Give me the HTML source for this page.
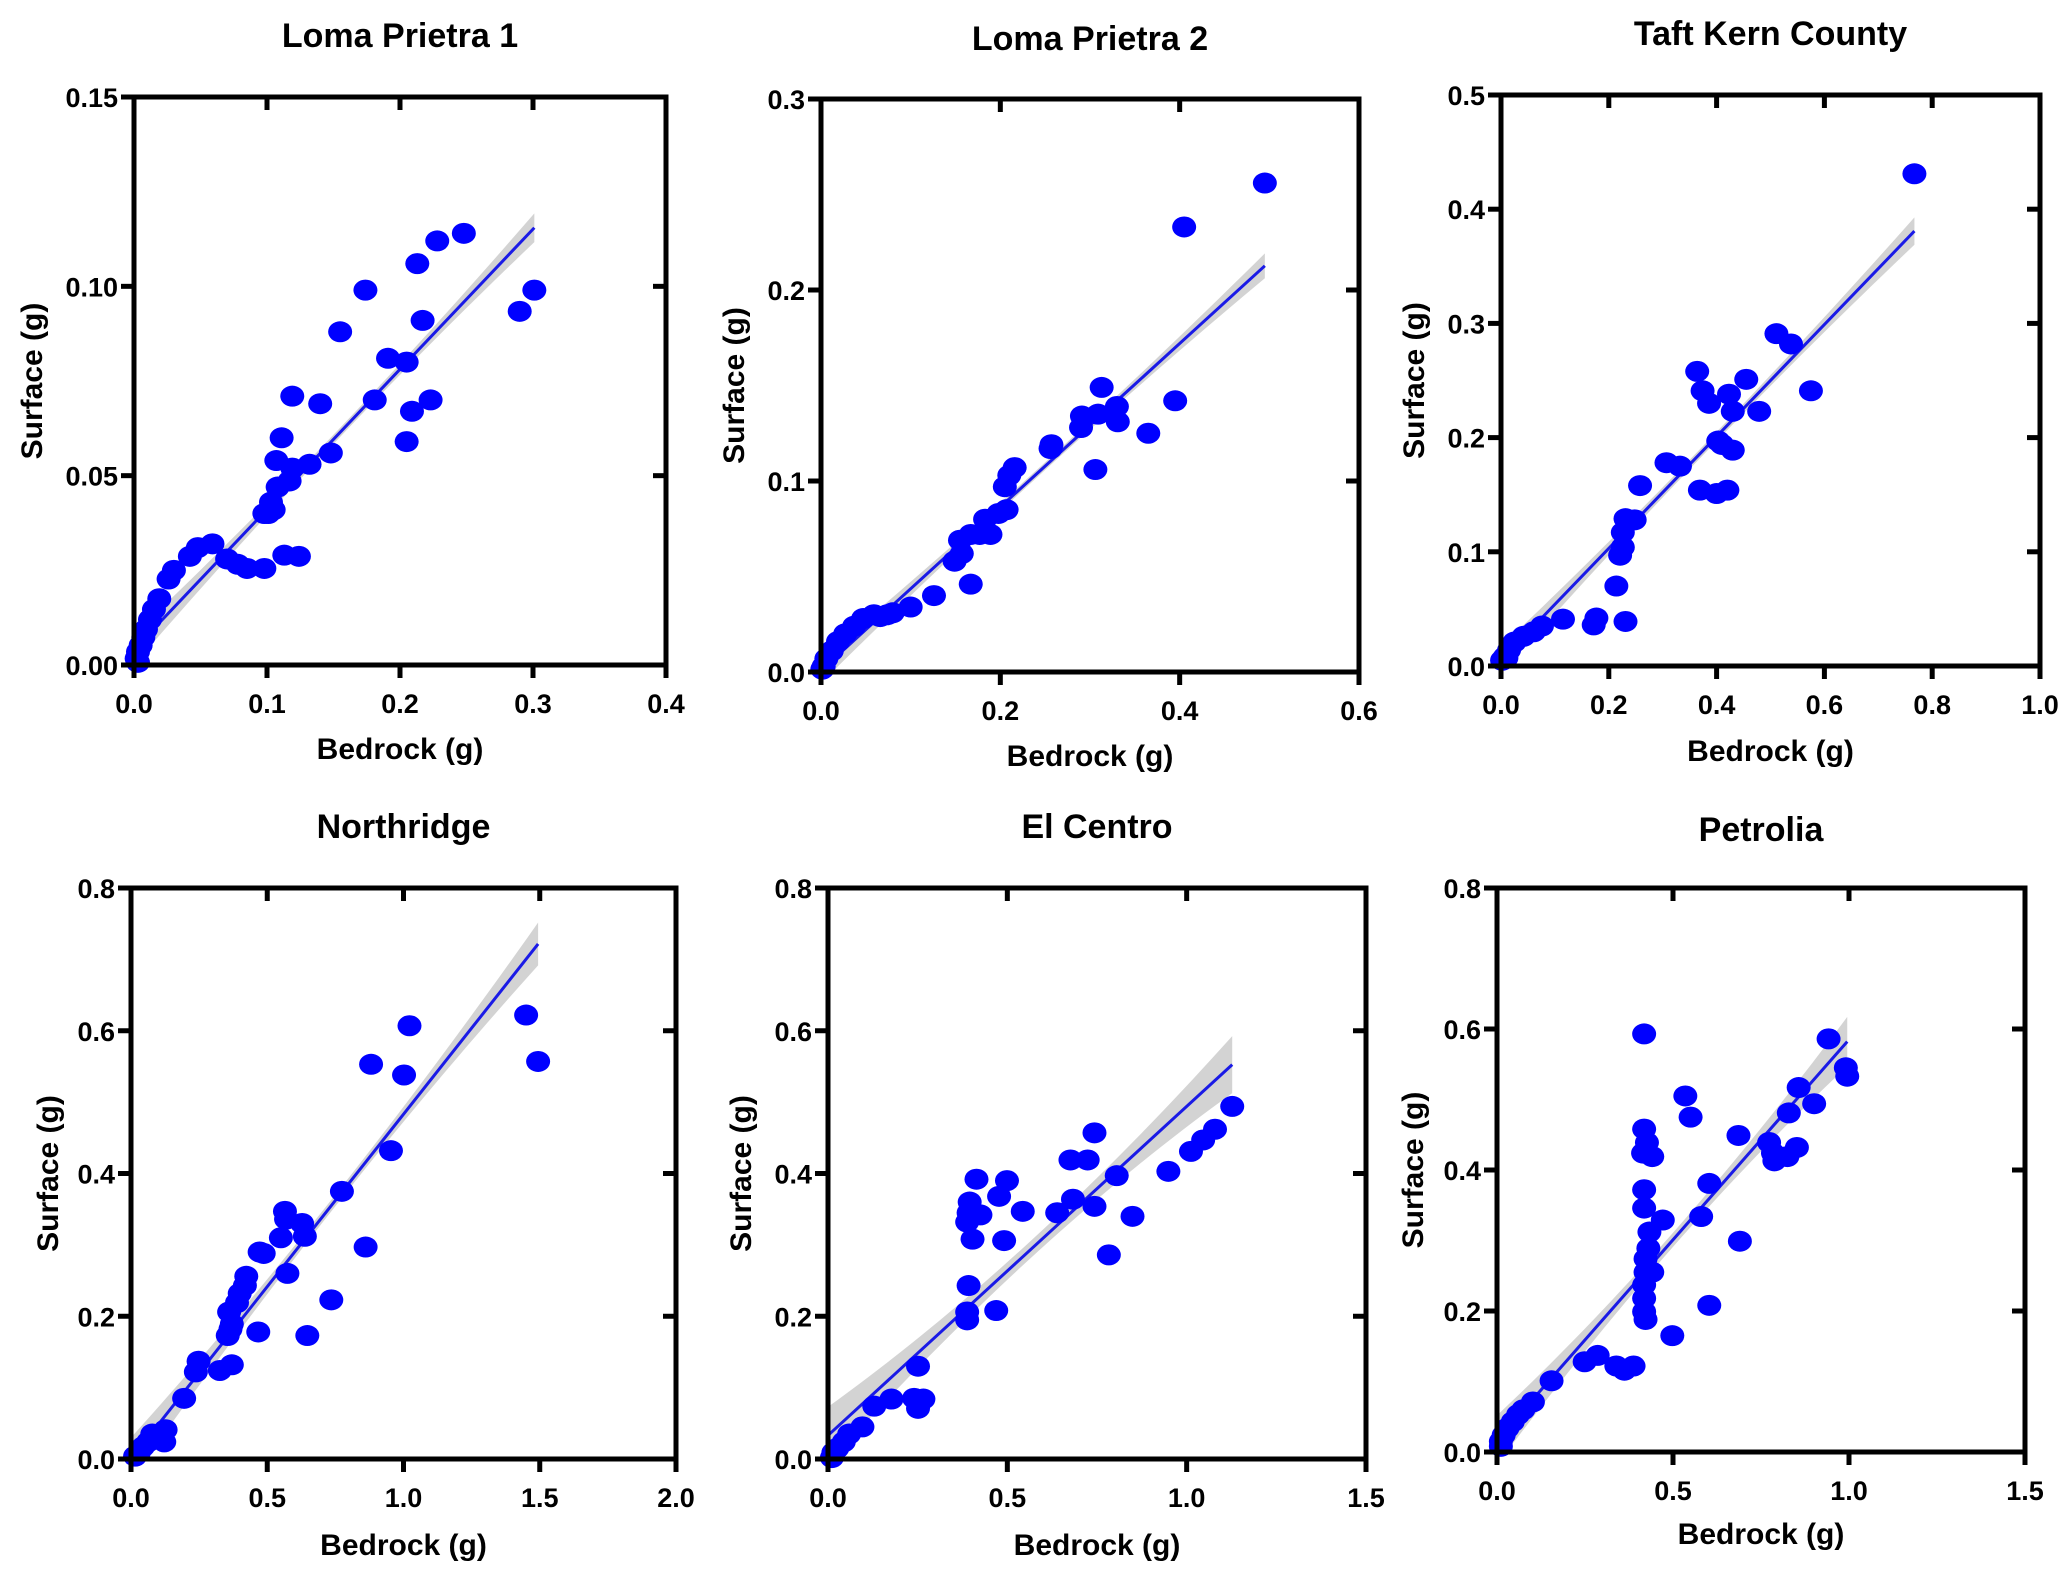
<!DOCTYPE html>
<html><head><meta charset="utf-8"><style>
html,body{margin:0;padding:0;background:#fff;}
svg{display:block;font-family:"Liberation Sans",Arial,sans-serif;}
</style></head><body>
<svg id="fig" width="2067" height="1572" viewBox="0 0 2067 1572" xmlns="http://www.w3.org/2000/svg"></svg>
<script>
// ---- data ----
const p1x=[0.301,0.290,0.248,0.228,0.213,0.217,0.191,0.205,0.223,0.209,0.205,0.174,0.155,0.181,0.140,0.119,0.111,0.148,0.132,0.107,0.119,0.117,0.108,0.103,0.101,0.105,0.098,0.113,0.124,0.098,0.085,0.070,0.059,0.048,0.042,0.030,0.026,0.019,0.015,0.012,0.009,0.007,0.005,0.003,0.002,0.003,0.078];
const p1y=[0.099,0.0934,0.114,0.112,0.106,0.091,0.081,0.080,0.070,0.067,0.059,0.099,0.088,0.070,0.069,0.071,0.060,0.056,0.053,0.054,0.052,0.0486,0.047,0.043,0.040,0.041,0.040,0.029,0.0287,0.0255,0.0255,0.028,0.032,0.031,0.0287,0.025,0.0227,0.0175,0.0147,0.012,0.0094,0.0073,0.0052,0.0035,0.0017,0.0007,0.0266];
const p2x=[0.495,0.405,0.395,0.365,0.331,0.330,0.313,0.309,0.306,0.291,0.290,0.257,0.256,0.216,0.210,0.205,0.207,0.198,0.183,0.189,0.177,0.167,0.155,0.157,0.149,0.167,0.126,0.100,0.080,0.066,0.059,0.047,0.037,0.027,0.019,0.012,0.006,0.003,0.0015,0.074];
const p2y=[0.256,0.233,0.142,0.125,0.131,0.139,0.149,0.135,0.106,0.134,0.128,0.119,0.117,0.107,0.103,0.097,0.085,0.083,0.080,0.072,0.072,0.072,0.069,0.062,0.058,0.046,0.040,0.034,0.031,0.029,0.030,0.028,0.024,0.020,0.016,0.011,0.007,0.003,0.0015,0.030];
const p3x=[0.767,0.511,0.538,0.575,0.364,0.374,0.386,0.455,0.423,0.430,0.479,0.403,0.410,0.430,0.400,0.420,0.369,0.332,0.307,0.258,0.248,0.231,0.226,0.226,0.221,0.214,0.231,0.177,0.172,0.115,0.076,0.061,0.042,0.025,0.015,0.007,0.002,0.010];
const p3y=[0.431,0.291,0.282,0.241,0.258,0.241,0.230,0.251,0.238,0.223,0.223,0.197,0.194,0.189,0.151,0.154,0.154,0.175,0.178,0.158,0.128,0.129,0.117,0.104,0.097,0.070,0.039,0.042,0.036,0.041,0.035,0.030,0.026,0.021,0.014,0.008,0.005,0.007];
const p4x=[1.494,1.450,1.022,1.002,0.881,0.954,0.861,0.774,0.735,0.647,0.628,0.638,0.565,0.569,0.550,0.574,0.472,0.487,0.467,0.423,0.418,0.399,0.389,0.370,0.360,0.365,0.355,0.370,0.326,0.248,0.238,0.195,0.127,0.122,0.078,0.063,0.044,0.029,0.015,0.088];
const p4y=[0.557,0.622,0.607,0.538,0.553,0.432,0.297,0.375,0.223,0.173,0.330,0.312,0.347,0.336,0.310,0.260,0.290,0.288,0.178,0.256,0.243,0.232,0.219,0.189,0.206,0.182,0.173,0.132,0.124,0.137,0.122,0.085,0.041,0.024,0.035,0.024,0.017,0.009,0.004,0.030];
const p5x=[1.127,1.079,1.046,1.012,0.949,0.849,0.805,0.783,0.743,0.724,0.676,0.683,0.743,0.639,0.543,0.499,0.477,0.491,0.469,0.414,0.425,0.395,0.392,0.388,0.403,0.392,0.388,0.388,0.251,0.240,0.251,0.266,0.177,0.129,0.096,0.059,0.044,0.026,0.015,0.011];
const p5y=[0.494,0.462,0.447,0.431,0.403,0.340,0.397,0.286,0.457,0.419,0.419,0.364,0.354,0.345,0.347,0.390,0.368,0.306,0.208,0.392,0.342,0.360,0.345,0.332,0.308,0.243,0.206,0.195,0.130,0.085,0.071,0.084,0.084,0.074,0.045,0.035,0.024,0.015,0.009,0.002];
const p6x=[0.418,0.942,0.995,0.991,0.857,0.901,0.829,0.773,0.784,0.788,0.825,0.852,0.686,0.690,0.535,0.550,0.603,0.580,0.603,0.498,0.471,0.418,0.426,0.441,0.415,0.418,0.418,0.433,0.441,0.430,0.422,0.422,0.418,0.418,0.418,0.422,0.388,0.339,0.362,0.286,0.249,0.155,0.102,0.075,0.060,0.045,0.030,0.019,0.011,0.011];
const p6y=[0.593,0.586,0.533,0.545,0.517,0.494,0.481,0.439,0.424,0.413,0.419,0.432,0.449,0.299,0.505,0.475,0.381,0.334,0.208,0.165,0.329,0.458,0.439,0.419,0.424,0.372,0.346,0.312,0.255,0.289,0.274,0.255,0.237,0.218,0.199,0.188,0.122,0.122,0.116,0.137,0.128,0.101,0.071,0.060,0.053,0.043,0.034,0.024,0.015,0.008];
const titles=["Loma Prietra 1","Loma Prietra 2","Taft Kern County","Northridge","El Centro","Petrolia"];
const xTicks=[[0,0.1,0.2,0.3,0.4],[0,0.2,0.4,0.6],[0,0.2,0.4,0.6,0.8,1.0],[0,0.5,1.0,1.5,2.0],[0,0.5,1.0,1.5],[0,0.5,1.0,1.5]];
const yTicks=[[0,0.05,0.10,0.15],[0,0.1,0.2,0.3],[0,0.1,0.2,0.3,0.4,0.5],[0,0.2,0.4,0.6,0.8],[0,0.2,0.4,0.6,0.8],[0,0.2,0.4,0.6,0.8]];
const xDec=[1,1,1,1,1,1];
const yDec=[2,1,1,1,1,1];
const fitSlope=[0.37,0.428,0.49,0.483,0.461,0.568];
const fitIntercept=[0.0041,0.0008,0.005,0.0,0.033,0.017];
const fitRange=[[0.006,0.301],[0.0015,0.495],[0.0,0.767],[0.0,1.494],[0.0,1.127],[0.0,0.995]];
const ciEnd=[0.0038,0.0065,0.012,0.03,0.04,0.035];
const ciMid=[0.0012,0.002,0.004,0.008,0.012,0.01];
// ---- layout ----
const boxes=[[134,666,97,665],[821,1359,99,672],[1501,2040,95,666],[131,676,888,1459],[828,1366,888,1459],[1497,2025,888,1452]];
const titleY=[47,50,45,838,838,841];
const xLabY=[759,766,761,1555,1555,1544];
const yLabX=[42,744,1424,58,751,1423];
const xs=[p1x,p2x,p3x,p4x,p5x,p6x], ys=[p1y,p2y,p3y,p4y,p5y,p6y];
const NS="http://www.w3.org/2000/svg";
const svg=document.getElementById('fig');
function mk(tag,attrs,parent){const e=document.createElementNS(NS,tag);for(const k in attrs)e.setAttribute(k,attrs[k]);parent.appendChild(e);return e;}
for(let p=0;p<6;p++){
  const [L,R,T,B]=boxes[p];
  const xt=xTicks[p], yt=yTicks[p];
  const xmax=xt[xt.length-1], ymax=yt[yt.length-1];
  const sx=v=>L+(R-L)*v/xmax, sy=v=>B-(B-T)*v/ymax;
  const g=mk('g',{},svg);
  
  
  const t=mk('text',{x:(L+R)/2,y:titleY[p],'text-anchor':'middle','font-size':34,'font-weight':'bold',fill:'#000'},g);
  t.textContent=titles[p];
  
  
  const [x0,x1]=fitRange[p]; const xm=(x0+x1)/2; const hw=(x1-x0)/2;
  const up=[],dn=[];
  for(let i=0;i<=40;i++){const xv=x0+(x1-x0)*i/40;const yv=fitIntercept[p]+fitSlope[p]*xv;const r=(xv-xm)/hw;const w=ciMid[p]+(ciEnd[p]-ciMid[p])*r*r;up.push(sx(xv)+','+sy(yv+w));dn.unshift(sx(xv)+','+sy(Math.max(0,yv-w)));}
  const band=mk('polygon',{points:up.concat(dn).join(' '),fill:'#d3d3d3',stroke:'none'},g);
  
  
  const fl=mk('line',{x1:sx(x0),y1:sy(fitIntercept[p]+fitSlope[p]*x0),x2:sx(x1),y2:sy(fitIntercept[p]+fitSlope[p]*x1),stroke:'#1a1ae6','stroke-width':3},g);
  
  
  for(let i=0;i<xs[p].length;i++){
    const c=mk('ellipse',{cx:sx(xs[p][i]),cy:sy(ys[p][i]),rx:12,ry:10.5,fill:'#0000ff'},g);
    
    
  }
  const fr=mk('rect',{x:L,y:T,width:R-L,height:B-T,fill:'none',stroke:'#000','stroke-width':5},g);
  
  
  xt.forEach(v=>{
    const X=sx(v);
    mk('line',{x1:X,y1:B,x2:X,y2:B+13,stroke:'#000','stroke-width':5},g);
    mk('line',{x1:X,y1:T,x2:X,y2:T+13,stroke:'#000','stroke-width':5},g);
    const tl=mk('text',{x:X,y:B+48,'text-anchor':'middle','font-size':27,'font-weight':'bold'},g);
    tl.textContent=v.toFixed(xDec[p]);
    
    
  });
  yt.forEach(v=>{
    const Y=sy(v);
    mk('line',{x1:L-13,y1:Y,x2:L,y2:Y,stroke:'#000','stroke-width':5},g);
    mk('line',{x1:R-13,y1:Y,x2:R,y2:Y,stroke:'#000','stroke-width':5},g);
    const tl=mk('text',{x:L-16,y:Y+10,'text-anchor':'end','font-size':27,'font-weight':'bold'},g);
    tl.textContent=v.toFixed(yDec[p]);
    
    
  });
  const xl=mk('text',{x:(L+R)/2,y:xLabY[p],'text-anchor':'middle','font-size':30,'font-weight':'bold'},g);
  xl.textContent='Bedrock (g)';
  
  
  const cy=(T+B)/2;
  const yl=mk('text',{x:yLabX[p],y:cy,'text-anchor':'middle','font-size':30,'font-weight':'bold',transform:'rotate(-90 '+yLabX[p]+' '+cy+')'},g);
  yl.textContent='Surface (g)';
  
  
}
</script>
</body></html>
